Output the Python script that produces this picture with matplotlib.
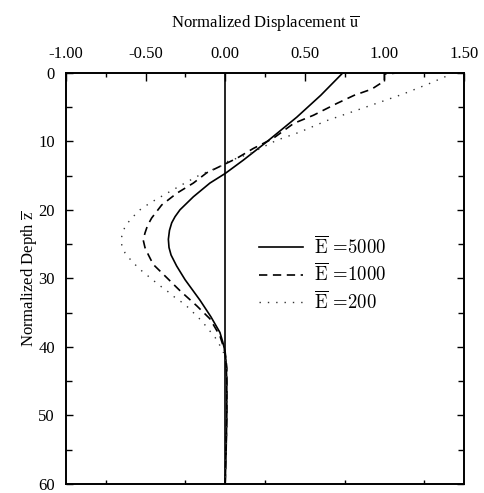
import matplotlib
matplotlib.use("Agg")
import matplotlib.pyplot as plt
from matplotlib.ticker import MultipleLocator, FormatStrFormatter

plt.rcParams['font.family'] = ['Liberation Serif', 'DejaVu Serif']
plt.rcParams['lines.scale_dashes'] = False

# E = 5000 (solid)
z_5000 = [0, 3.3, 6.5, 10.1, 12.75, 14.7, 16.1, 18.1, 20.0, 21.0, 21.9, 23.0, 24.3, 25.5,
          26.6, 28.2, 30.2, 33.2, 35.6, 37.9, 39.3, 40.3, 42, 45, 50, 55, 60]
u_5000 = [0.74, 0.60, 0.449, 0.26, 0.114, 0.0, -0.096, -0.2, -0.284, -0.315, -0.336, -0.350,
          -0.357, -0.353, -0.340, -0.305, -0.252, -0.158, -0.09, -0.033, -0.015, -0.005,
          0.005, 0.01, 0.01, 0.006, 0.0]

# E = 1000 (dashed)
z_1000 = [0, 0.2, 1.2, 2.4, 3.3, 4.5, 6.2, 7.4, 9.6, 11.06, 12.5, 14.6, 16.1, 17.6, 19.3,
          21.2, 22.3, 23.4, 24.4, 25.5, 26.6, 27.97, 29.9, 31.8, 34.0, 35.9, 38.4, 40.8, 43,
          50, 55, 60]
u_1000 = [1.10, 1.0, 1.0, 0.92, 0.81, 0.70, 0.555, 0.43, 0.30, 0.176, 0.072, -0.116, -0.2,
          -0.305, -0.399, -0.462, -0.488, -0.504, -0.515, -0.504, -0.482, -0.452, -0.367,
          -0.284, -0.179, -0.096, -0.033, 0.0, 0.01, 0.01, 0.005, 0.0]

# E = 200 (dotted)
z_200 = [0, 0.4, 1.55, 3.1, 3.96, 5.4, 7.0, 8.65, 9.86, 11.8, 13.0, 13.7, 14.9, 16.1, 17.6,
         19.0, 20.0, 21.2, 22.4, 23.9, 25.1, 26.3, 27.5, 28.7, 29.9, 30.9, 31.8, 32.8, 33.8,
         35.0, 36.2, 37.4, 38.6, 39.8, 41.3, 43, 50, 55, 60]
u_200 = [1.43, 1.40, 1.286, 1.119, 1.014, 0.836, 0.637, 0.47, 0.323, 0.156, 0.01, -0.033,
         -0.158, -0.253, -0.367, -0.472, -0.535, -0.587, -0.629, -0.65, -0.65, -0.629, -0.587,
         -0.535, -0.472, -0.42, -0.367, -0.315, -0.253, -0.2, -0.148, -0.106, -0.064, -0.033,
         0.0, 0.01, 0.012, 0.006, 0.0]

labels = ['5000', '1000', '200']

fig = plt.figure(figsize=(4.84, 4.93), dpi=100)
ax = fig.add_axes([66/484, 9/493, 398/484, 411.3/493])

ax.axvline(0, color='black', lw=1.2, zorder=1)
lines = []
lines += ax.plot(u_5000, z_5000, color='black', lw=1.2, ls='-')
lines += ax.plot(u_1000, z_1000, color='black', lw=1.2, ls=(0, (6, 4)))
lines += ax.plot(u_200, z_200, color='#333333', lw=1.0, ls=(0, (1, 5)))

ax.set_xlim(-1.0, 1.5)
ax.set_ylim(60, 0)
ax.xaxis.set_major_locator(MultipleLocator(0.5))
ax.xaxis.set_minor_locator(MultipleLocator(0.25))
ax.xaxis.set_major_formatter(FormatStrFormatter('%.2f'))
ax.yaxis.set_major_locator(MultipleLocator(10))
ax.yaxis.set_minor_locator(MultipleLocator(5))

ax.xaxis.tick_top()
ax.xaxis.set_label_position('top')
ax.tick_params(axis='both', which='both', direction='in', top=True, bottom=True,
               left=True, right=True, labelsize=12, pad=8, width=1.0)
ax.tick_params(axis='x', which='major', length=6)
ax.tick_params(axis='x', which='minor', length=3)
ax.tick_params(axis='y', which='major', length=5)
ax.tick_params(axis='y', which='minor', length=4)
ax.tick_params(axis='x', which='major', bottom=False)

for s in ax.spines.values():
    s.set_linewidth(1.4)

xl = ax.set_xlabel(r'Normalized Displacement $\overline{\mathrm{u}}$', fontsize=12, labelpad=13)
xl.set_math_fontfamily('stix')
yl = ax.set_ylabel(r'Normalized Depth $\overline{\mathrm{z}}$', fontsize=12, labelpad=-1)
yl.set_math_fontfamily('stix')

leg = ax.legend(lines, [r'$\overline{\mathrm{E}}$ =' + s for s in labels],
                loc='upper left', bbox_to_anchor=(0.465, 0.623), frameon=False,
                prop={'family': 'cmr10', 'size': 13.5}, handlelength=2.35,
                handletextpad=0.6, labelspacing=0.25, borderaxespad=0)
for t in leg.get_texts():
    t.set_math_fontfamily('cm')

fig.savefig('out.png', dpi=100)
